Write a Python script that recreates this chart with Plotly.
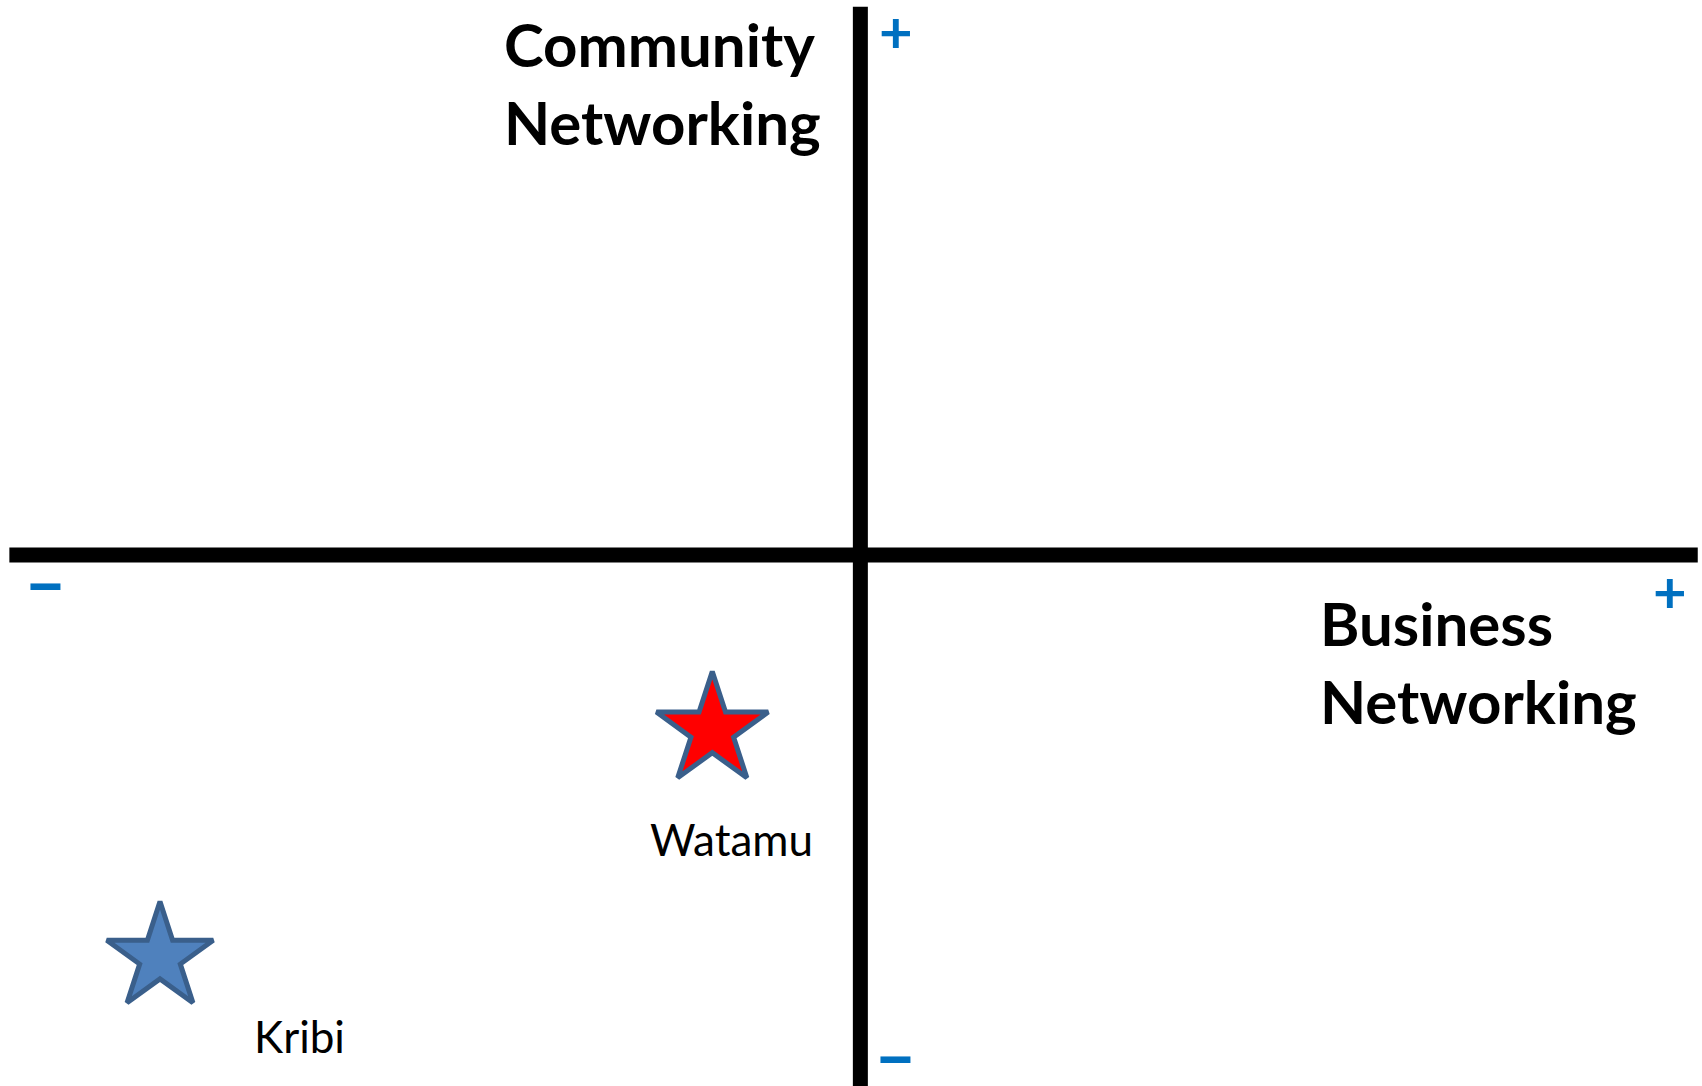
import plotly.graph_objects as go

W, H = 1702, 1086

# Data (positions on the two networking dimensions, arbitrary units)
sites = ["Watamu", "Kribi"]
business = [-1.74, -8.23]
community = [-2.06, -4.73]
fill_colors = ["#FF0000", "#4F81BD"]
star_sizes = [84, 80]
label_dx = [19, 140]
label_dy = [-109, -79]

x_title = "Business<br>Networking"
y_title = "Community<br>Networking"

X_RANGE = [-10.11, 9.89]
Y_RANGE = [-6.24, 6.52]

def px_x(p):
    return p / W

def px_y(p):
    return 1 - p / H

fig = go.Figure()

fig.add_trace(go.Scatter(
    x=business, y=community, mode="markers",
    marker=dict(symbol="star", size=star_sizes, color=fill_colors, opacity=1,
                line=dict(color="#3A5F8B", width=5)),
    hoverinfo="text", text=sites, showlegend=False,
))

annotations = []
for s, xv, yv, dx, dy in zip(sites, business, community, label_dx, label_dy):
    annotations.append(dict(
        x=xv, y=yv, xref="x", yref="y", text=s, showarrow=False,
        xanchor="center", yanchor="middle", xshift=dx, yshift=dy,
        font=dict(family="Lato", size=44, color="#000000"),
    ))

annotations.append(dict(
    x=px_x(502), y=px_y(6), xref="paper", yref="paper", text=y_title,
    showarrow=False, xanchor="left", yanchor="top", align="left",
    font=dict(family="Lato", size=60, color="#000000", weight="bold"),
))
annotations.append(dict(
    x=px_x(1318), y=px_y(585), xref="paper", yref="paper", text=x_title,
    showarrow=False, xanchor="left", yanchor="top", align="left",
    font=dict(family="Lato", size=60, color="#000000", weight="bold"),
))

plus_font = dict(family="Lato", size=58, color="#0070C0", weight="bold")
minus_font = dict(family="Lato", size=74, color="#0070C0", weight="bold")
for t, px, py, f in [("+", 896, 30, plus_font), ("+", 1670, 590, plus_font),
                     ("–", 45, 580, minus_font), ("–", 895, 1053, minus_font)]:
    annotations.append(dict(
        x=px_x(px), y=px_y(py), xref="paper", yref="paper", text=t,
        showarrow=False, xanchor="center", yanchor="middle", font=f,
        height=44, valign="middle",
    ))

shapes = [
    dict(type="line", xref="x", yref="y", x0=-10.0, x1=9.84, y0=0, y1=0,
         line=dict(color="#000000", width=15), layer="below"),
    dict(type="line", xref="x", yref="y", x0=0, x1=0, y0=Y_RANGE[0], y1=6.44,
         line=dict(color="#000000", width=15), layer="below"),
]

fig.update_layout(
    width=W, height=H,
    margin=dict(l=0, r=0, t=0, b=0),
    paper_bgcolor="#FFFFFF", plot_bgcolor="#FFFFFF",
    xaxis=dict(range=X_RANGE, visible=False, fixedrange=True),
    yaxis=dict(range=Y_RANGE, visible=False, fixedrange=True),
    annotations=annotations, shapes=shapes,
)

fig.write_html("out.html", config={"staticPlot": True},
               post_script="document.body.style.margin='0';")
